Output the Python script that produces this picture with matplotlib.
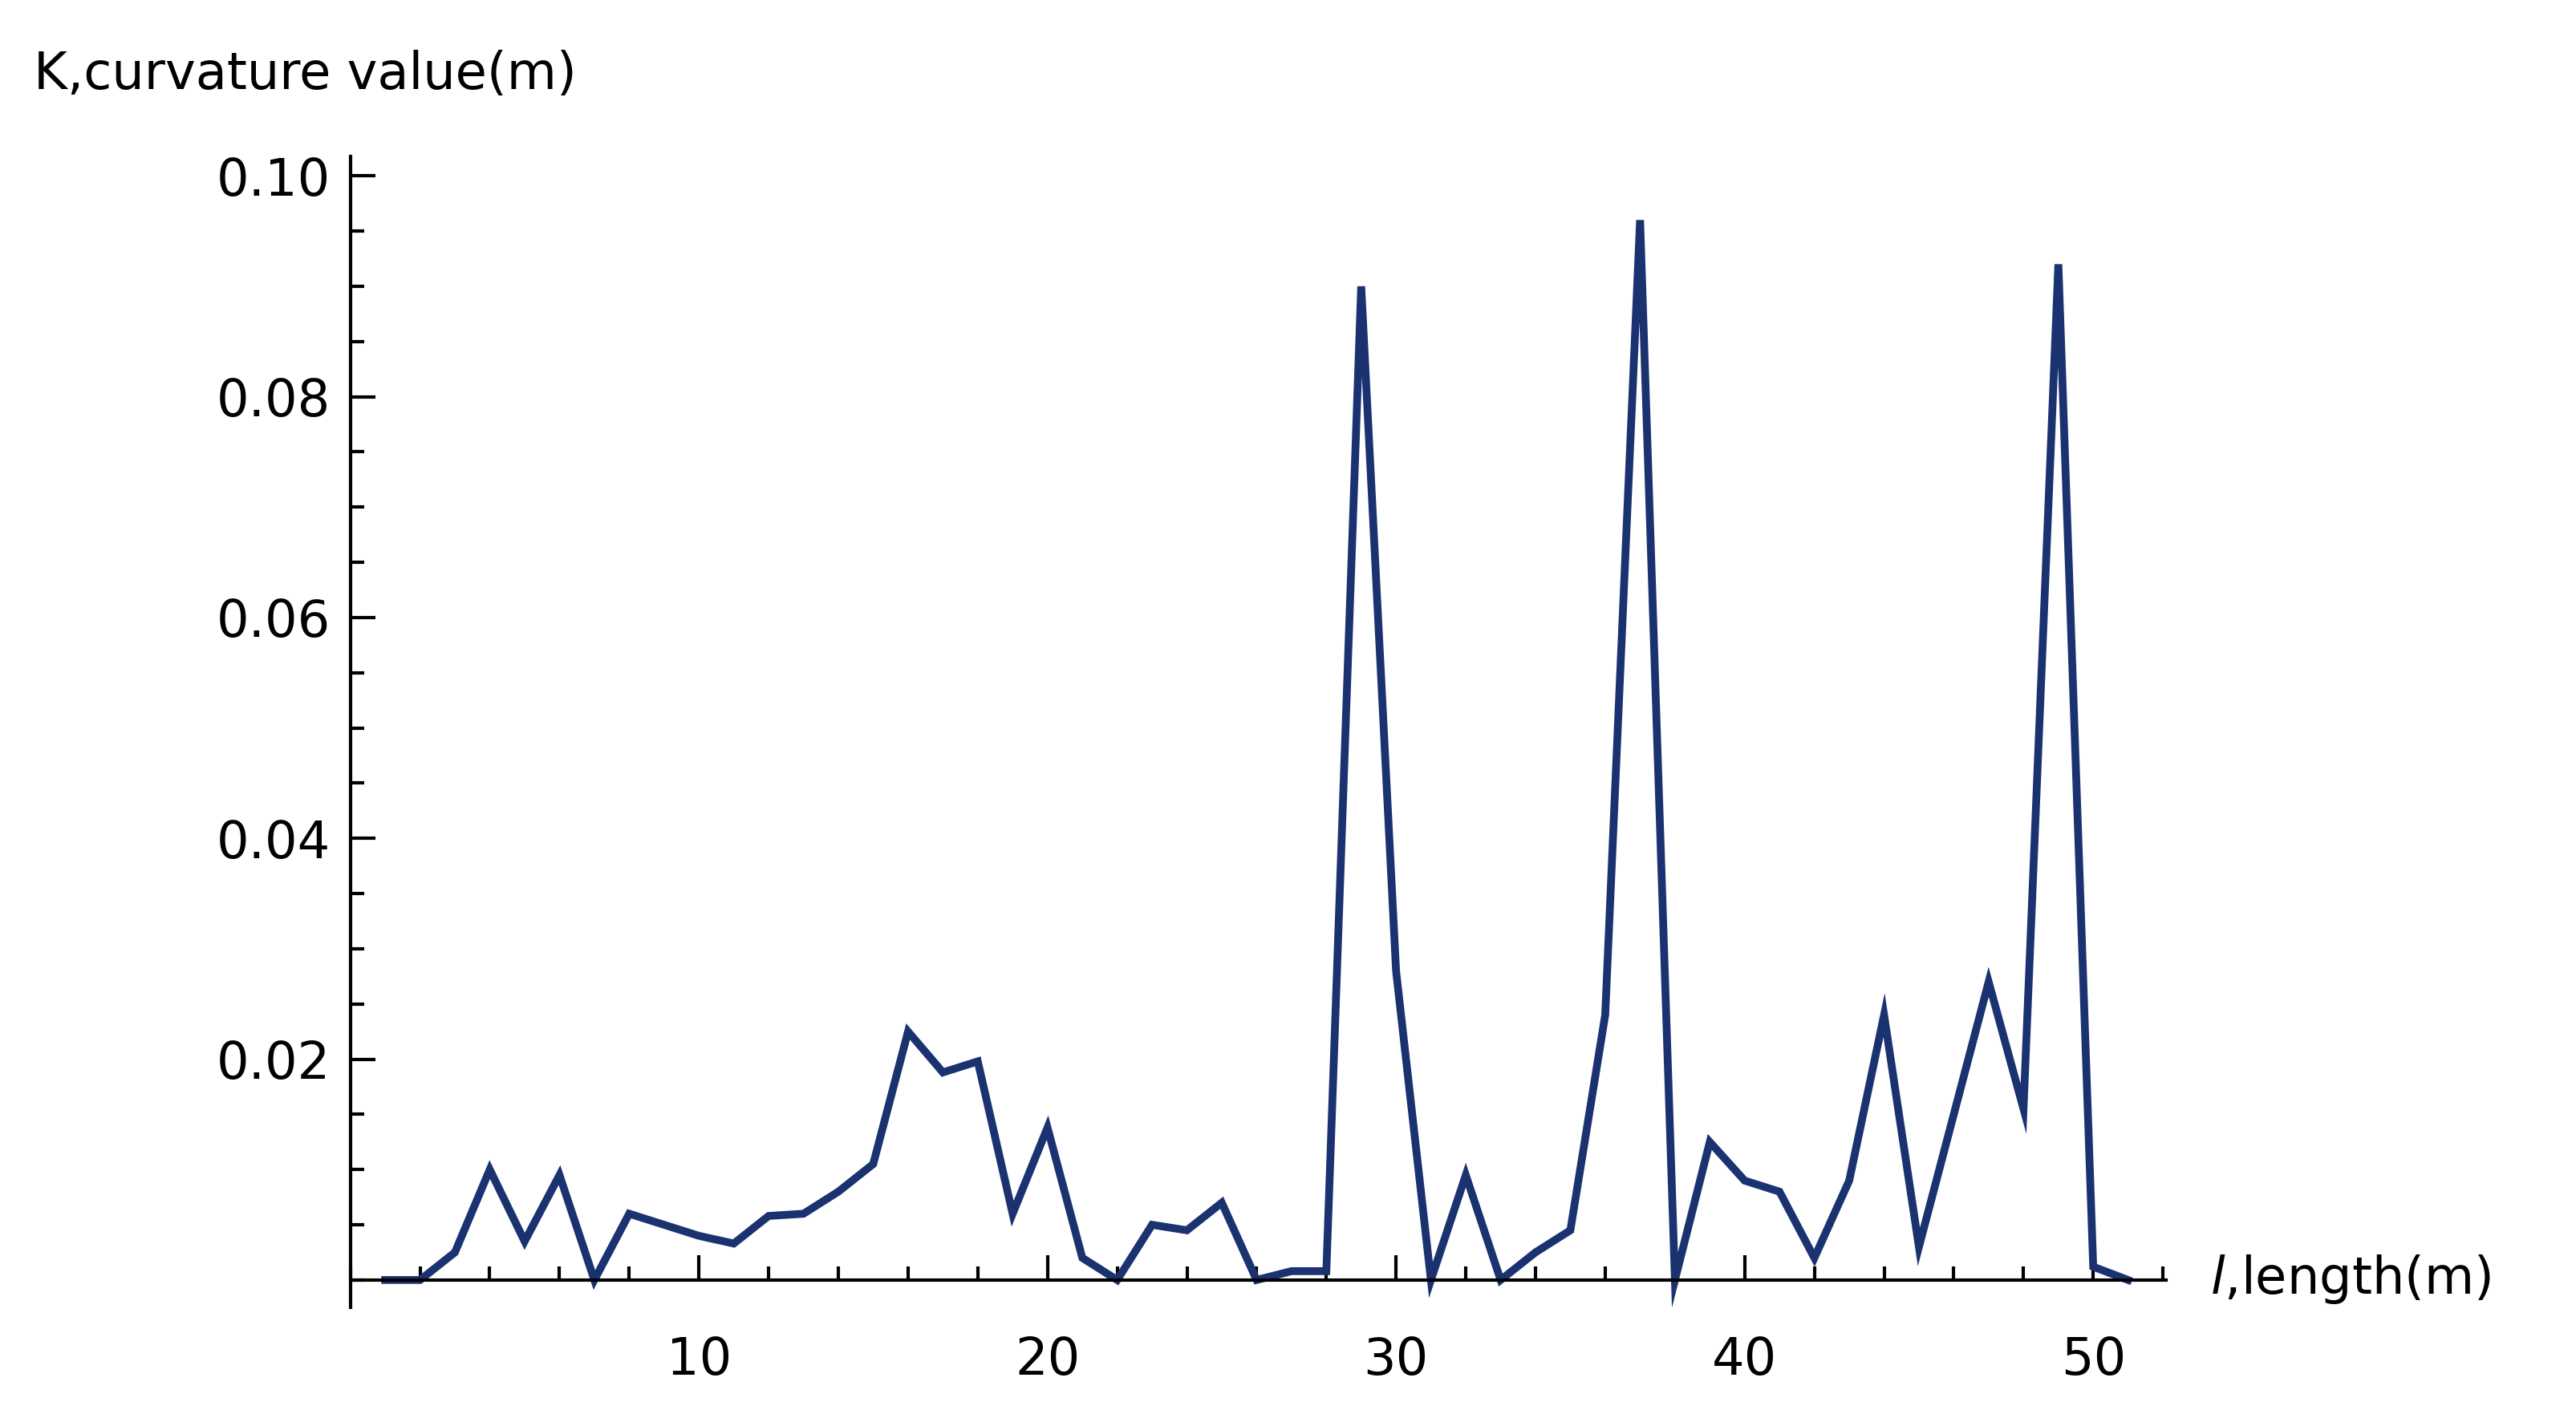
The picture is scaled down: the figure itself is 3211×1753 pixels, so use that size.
import matplotlib
matplotlib.use('Agg')
import matplotlib.pyplot as plt
from matplotlib.ticker import MultipleLocator, FixedLocator

length = list(range(1, 52))
curvature = [0.0, 0.0, 0.0025, 0.0100, 0.0035, 0.0095, 0.0, 0.0060, 0.0050, 0.0040,
             0.0033, 0.0058, 0.0060, 0.0080, 0.0105, 0.0225, 0.0188, 0.0198, 0.0060, 0.0138,
             0.0020, 0.0, 0.0050, 0.0045, 0.0070, 0.0, 0.0008, 0.0008, 0.0900, 0.0280,
             0.0, 0.0095, 0.0, 0.0025, 0.0045, 0.0240, 0.0960, 0.0, 0.0125, 0.0090,
             0.0080, 0.0020, 0.0090, 0.0240, 0.0030, 0.0150, 0.0270, 0.0155, 0.0920, 0.0012,
             0.0]
yticks = [0.02, 0.04, 0.06, 0.08, 0.10]
ytick_labels = ['0.02', '0.04', '0.06', '0.08', '0.10']
xticks = [10, 20, 30, 40, 50]

fig = plt.figure(figsize=(32.11, 17.53), dpi=100)
ax = fig.add_axes([0.136, 0.07, 0.705, 0.819])
ax.plot(length, curvature, color='#1a3270', linewidth=7, solid_joinstyle='miter')

ax.set_xlim(0, 52.1)
ax.set_ylim(-0.0025, 0.1018)
ax.spines['bottom'].set_position(('data', 0))
ax.spines['top'].set_visible(False)
ax.spines['right'].set_visible(False)
for s in ('left', 'bottom'):
    ax.spines[s].set_linewidth(3)

ax.xaxis.set_major_locator(FixedLocator(xticks))
ax.xaxis.set_minor_locator(MultipleLocator(2))
ax.yaxis.set_major_locator(FixedLocator(yticks))
ax.set_yticklabels(ytick_labels)
ax.yaxis.set_minor_locator(MultipleLocator(0.005))
ax.tick_params(which='both', direction='in', width=3, labelsize=46, pad=18)
ax.tick_params(which='major', length=22)
ax.tick_params(which='minor', length=12)
ax.tick_params(axis='x', pad=50)

fig.text(0.013, 0.947, 'K,curvature value(m)', fontsize=46, ha='left', va='center')
fig.text(0.858, 0.09, r'$\it{l}$,length(m)', fontsize=46, ha='left', va='center')

fig.savefig('out.png')
